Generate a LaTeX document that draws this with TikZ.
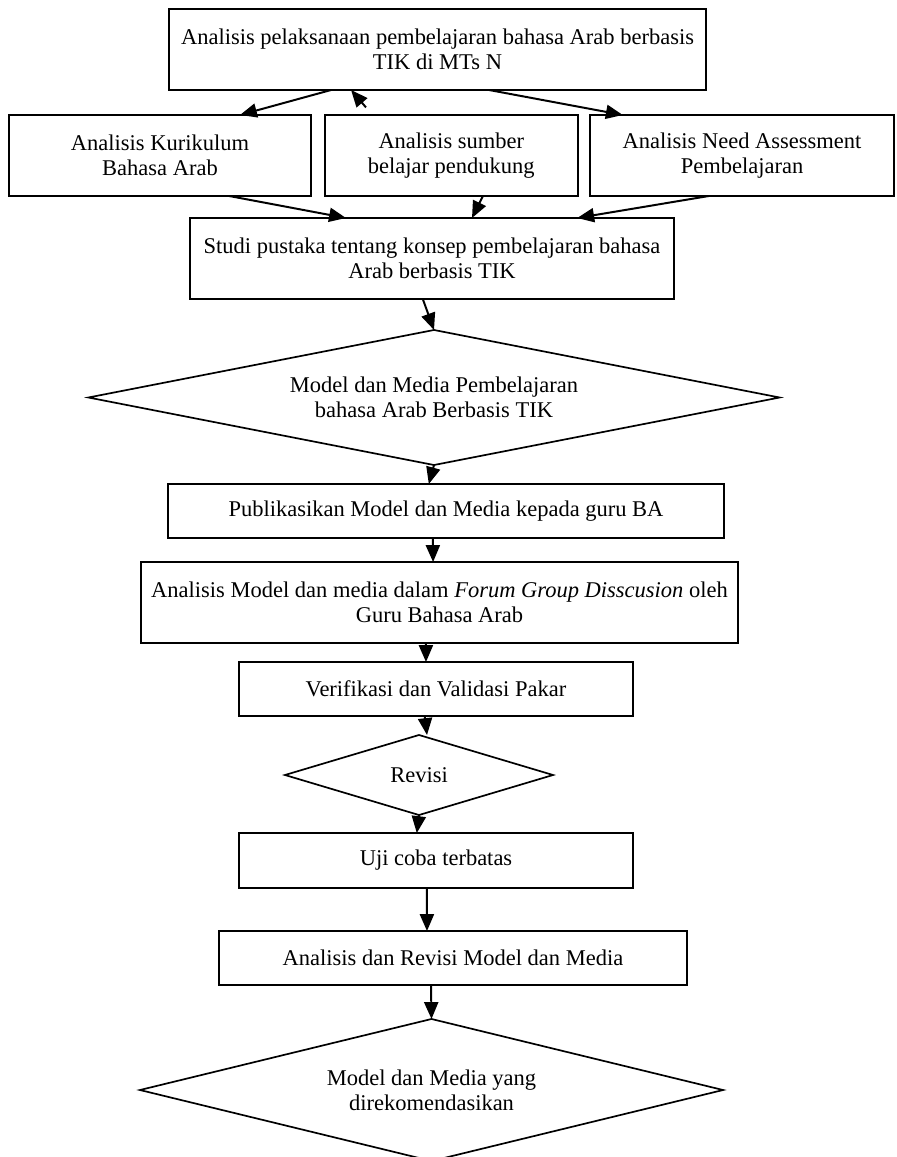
\documentclass[tikz,border=0pt]{standalone}
\usepackage{fontspec}
\setmainfont{Liberation Serif}
\usetikzlibrary{arrows.meta, positioning, shapes.geometric}

\begin{document}
\begin{tikzpicture}[
    x=0.025cm, y=-0.025cm,
    >={Triangle[length=12pt, width=10pt]},
    every node/.style={font=\fontsize{16}{17.8}\selectfont},
    proc/.style={rectangle, draw, line width=1.2pt, align=center, inner sep=0pt, outer sep=0pt, minimum height=2.025cm},
    thin proc/.style={proc, minimum height=1.35cm},
    decision/.style={diamond, draw, line width=1.2pt, align=center, inner sep=0pt, outer sep=0pt},
    flow/.style={->, line width=1.4pt}
  ]

  \useasboundingbox (0,0) rectangle (896,1157);

  \node[proc, minimum width=13.425cm] (analisis) at (437.5,49.5) {Analisis pelaksanaan pembelajaran bahasa Arab berbasis\\TIK di MTs N};

  \node[proc, minimum width=7.55cm] (kurikulum) at (160,155.5) {Analisis Kurikulum\\Bahasa Arab};
  \node[proc, minimum width=6.325cm] (sumber) at (451.3,155.5) {Analisis sumber\\belajar pendukung};
  \node[proc, minimum width=7.6cm] (need) at (742,155.5) {Analisis Need Assessment\\Pembelajaran};

  \node[proc, minimum width=12.1cm] (studi) at (432,258.5) {Studi pustaka tentang konsep pembelajaran bahasa\\Arab berbasis TIK};

  \node[decision, aspect=5.1, minimum width=17.275cm, minimum height=3.375cm] (model) at (434,397.5) {Model dan Media Pembelajaran\\bahasa Arab Berbasis TIK};

  \node[thin proc, minimum width=13.9cm] (publikasi) at (446,511) {Publikasikan Model dan Media kepada guru BA};
  \node[proc, minimum width=14.925cm] (fgd) at (439.5,602.5) {Analisis Model dan media dalam \textit{Forum Group Disscusion} oleh\\Guru Bahasa Arab};
  \node[thin proc, minimum width=9.85cm] (validasi) at (436,689) {Verifikasi dan Validasi Pakar};

  \node[decision, aspect=3.35, minimum width=6.7cm, minimum height=2.0cm] (revisi) at (419,775) {Revisi};

  \node[thin proc, minimum width=9.85cm, minimum height=1.375cm] (uji) at (436,860.5) {Uji coba terbatas};
  \node[thin proc, minimum width=11.7cm] (revmodel) at (453,958) {Analisis dan Revisi Model dan Media};

  \node[decision, aspect=4.1, minimum width=14.575cm, minimum height=3.55cm] (rekomendasi) at (431.5,1090) {Model dan Media yang\\direkomendasikan};

  % analisis awal
  \draw[flow] ([xshift=-2.66cm]analisis.south) -- ([xshift=2.0cm]kurikulum.north);
  \draw[flow, shorten <=0.25cm] ([xshift=-1.97cm]sumber.north) -- ([xshift=-2.16cm]analisis.south);
  \draw[flow] ([xshift=1.29cm]analisis.south) -- ([xshift=-2.98cm]need.north);

  \draw[flow] ([xshift=1.73cm]kurikulum.south) -- ([xshift=-2.15cm]studi.north);
  \draw[flow] ([xshift=0.79cm]sumber.south) -- ([xshift=1.0cm]studi.north);
  \draw[flow] ([xshift=-0.83cm]need.south) -- ([xshift=3.63cm]studi.north);

  % alur utama
  \draw[flow] ([xshift=-0.23cm]studi.south) -- (model.north);
  \draw[flow] (model.south) -- ([xshift=-0.43cm]publikasi.north);
  \draw[flow] ([xshift=-0.33cm]publikasi.south) -- ([xshift=-0.16cm]fgd.north);
  \draw[flow] ([xshift=-0.34cm]fgd.south) -- ([xshift=-0.25cm]validasi.north);
  \draw[flow] ([xshift=-0.28cm]validasi.south) -- ([xshift=0.2cm]revisi.north);
  \draw[flow] (revisi.south) -- ([xshift=-0.48cm]uji.north);
  \draw[flow] ([xshift=-0.23cm]uji.south) -- ([xshift=-0.65cm]revmodel.north);
  \draw[flow] ([xshift=-0.55cm]revmodel.south) -- (rekomendasi.north);

\end{tikzpicture}
\end{document}
